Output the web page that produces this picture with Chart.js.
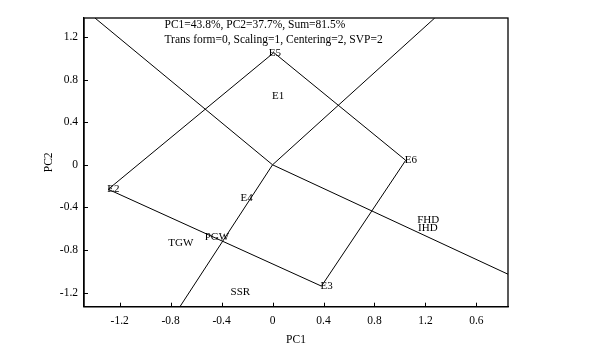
<!DOCTYPE html>
<html><head><meta charset="utf-8">
<script src="https://cdn.jsdelivr.net/npm/chart.js@4"></script>
<style>html,body{margin:0;padding:0;background:#fff}#wrap{width:593px;height:356px;position:relative}</style>
</head><body><div id="wrap"><canvas id="c"></canvas></div>
<script>
// ---- data ----
const pointNames = ['E1', 'E2', 'E3', 'E4', 'E5', 'E6', 'TGW', 'PGW', 'SSR', 'FHD', 'IHD'];
const pointX     = [0.003, -1.29, 0.384, -0.243, 0.01, 1.045, -0.811, -0.525, -0.322, 1.143, 1.15];
const pointY     = [0.644, -0.23, -1.139, -0.315, 1.053, 0.042, -0.738, -0.678, -1.195, -0.523, -0.59];
const polygonOrder = ['E5', 'E6', 'E3', 'E2'];
const rayEndX = [-1.394, 1.273, 1.848, -0.727];
const rayEndY = [1.378, 1.378, -1.027, -1.332];
const xTickValues = [-1.2, -0.8, -0.4, 0, 0.4, 0.8, 1.2, 1.6];
const xTickLabels = ['-1.2', '-0.8', '-0.4', '0', '0.4', '0.8', '1.2', '0.6'];
const yTickValues = [-1.2, -0.8, -0.4, 0, 0.4, 0.8, 1.2];
const yTickLabels = ['-1.2', '-0.8', '-0.4', '0', '0.4', '0.8', '1.2'];
const statLines = ['PC1=43.8%, PC2=37.7%, Sum=81.5%', 'Trans form=0, Scaling=1, Centering=2, SVP=2'];
const xTitle = 'PC1';
const yTitle = 'PC2';

// ---- styles ----
const FONT = "'Liberation Serif', 'Times New Roman', serif";
const labelAlign = { E5: 'center' };

const pt = name => { const i = pointNames.indexOf(name); return { x: pointX[i], y: pointY[i] }; };
const polyData = polygonOrder.map(pt); polyData.push(pt(polygonOrder[0]));

const datasets = [{
  label: 'polygon', data: polyData, showLine: true, borderColor: '#000', borderWidth: 1,
  pointRadius: 0, fill: false, tension: 0
}];
rayEndX.forEach((x, i) => datasets.push({
  label: 'ray' + i, data: [{ x: 0, y: 0 }, { x: x, y: rayEndY[i] }], showLine: true,
  borderColor: '#000', borderWidth: 1, pointRadius: 0, fill: false
}));
datasets.push({
  label: 'labels', data: pointNames.map((n, i) => ({ x: pointX[i], y: pointY[i], name: n })),
  pointRadius: 0, showLine: false
});

const decor = {
  id: 'decor',
  afterDatasetsDraw(chart) {
    const ctx = chart.ctx, a = chart.chartArea, xs = chart.scales.x, ys = chart.scales.y;
    ctx.save();
    // frame
    ctx.strokeStyle = '#000'; ctx.lineWidth = 1.3;
    ctx.strokeRect(a.left, a.top, a.right - a.left, a.bottom - a.top);
    // inward ticks
    ctx.lineWidth = 1;
    ctx.beginPath();
    xTickValues.forEach(v => { const p = Math.round(xs.getPixelForValue(v)) + 0.5; ctx.moveTo(p, a.bottom); ctx.lineTo(p, a.bottom - 4); });
    yTickValues.forEach(v => { const p = Math.round(ys.getPixelForValue(v)) + 0.5; ctx.moveTo(a.left, p); ctx.lineTo(a.left + 4, p); });
    ctx.stroke();
    // point labels
    ctx.fillStyle = '#000'; ctx.font = '11px ' + FONT; ctx.textBaseline = 'middle';
    pointNames.forEach((n, i) => {
      const px = xs.getPixelForValue(pointX[i]), py = ys.getPixelForValue(pointY[i]);
      const al = labelAlign[n] || 'left';
      ctx.textAlign = al;
      ctx.fillText(n, al === 'left' ? px - 1 : px + 1, py);
    });
    // statistics text
    ctx.font = '11.5px ' + FONT; ctx.textAlign = 'left';
    statLines.forEach((t, i) => ctx.fillText(t, 164.5, 25 + i * 15));
    ctx.restore();
  }
};

new Chart(document.getElementById('c'), {
  type: 'scatter',
  data: { datasets },
  options: {
    responsive: true, maintainAspectRatio: false, animation: false,
    layout: { padding: { left: 0, top: 18, right: 85, bottom: 0 } },
    plugins: { legend: { display: false }, tooltip: { enabled: false } },
    scales: {
      x: {
        type: 'linear', min: -1.48, max: 1.848,
        afterBuildTicks: s => { s.ticks = xTickValues.map(v => ({ value: v })); },
        afterFit: s => { s.height = 49.3; },
        ticks: { autoSkip: false, maxRotation: 0, padding: 7, color: '#000', font: { family: FONT, size: 11.5 },
                 callback: (v, i) => xTickLabels[i] },
        grid: { display: true, drawOnChartArea: false, drawTicks: false },
        border: { display: true, color: '#000', width: 1.3 },
        title: { display: true, text: xTitle, color: '#000', font: { family: FONT, size: 11.5 }, padding: { top: 0, bottom: 9 } }
      },
      y: {
        type: 'linear', min: -1.332, max: 1.378,
        afterBuildTicks: s => { s.ticks = yTickValues.map(v => ({ value: v })); },
        afterFit: s => { s.width = 84; },
        ticks: { autoSkip: false, padding: 6, color: '#000', font: { family: FONT, size: 11.5 },
                 callback: (v, i) => yTickLabels[i] },
        grid: { display: true, drawOnChartArea: false, drawTicks: false },
        border: { display: true, color: '#000', width: 1.3 },
        title: { display: true, text: yTitle, color: '#000', font: { family: FONT, size: 11.5 }, padding: { top: 42, bottom: 0 } }
      }
    }
  },
  plugins: [decor]
});
</script>
</body></html>
